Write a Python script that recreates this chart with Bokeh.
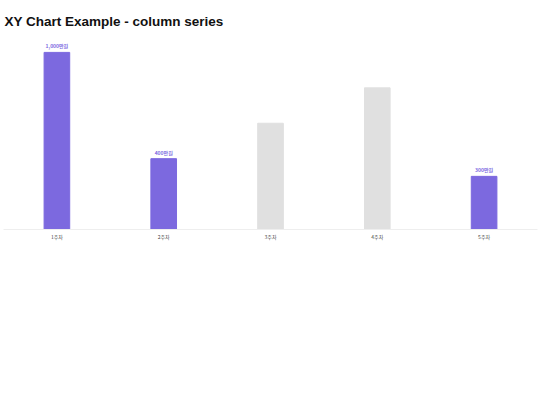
from bokeh.plotting import figure
from bokeh.models import ColumnDataSource, FactorRange, Range1d, Title
from bokeh.core.properties import value
from bokeh.embed import file_html
from bokeh.resources import INLINE

categories = ["1주차", "2주차", "3주차", "4주차", "5주차"]
values = [1000, 400, 600, 800, 300]
highlighted = [True, True, False, False, True]
label_texts = ["1,000만원", "400만원", "", "", "300만원"]

PURPLE = "#7C69DF"
GREY = "#E0E0E0"

colors = [PURPLE if h else GREY for h in highlighted]
src = ColumnDataSource(dict(cat=categories, val=values, color=colors))

lab_cats = [c for c, t in zip(categories, label_texts) if t]
lab_vals = [v for v, t in zip(values, label_texts) if t]
lab_txt = [t for t in label_texts if t]
lsrc = ColumnDataSource(dict(cat=lab_cats, val=lab_vals, txt=lab_txt))

p = figure(width=540, height=405, output_backend="svg", toolbar_location=None,
           x_range=FactorRange(*categories, range_padding=0),
           y_range=Range1d(0, 1118),
           min_border_left=3, min_border_right=3,
           min_border_top=31, min_border_bottom=176)
p.title = Title(text="XY Chart Example - column series", text_font_size="13.5px",
                text_font_style="bold", text_font="Liberation Sans",
                text_color="#111111", offset=1, standoff=3,
                vertical_align="middle")

p.vbar(x="cat", top="val", width=0.24, source=src, fill_color="color",
       line_color="color")
p.text(x="cat", y="val", text="txt", source=lsrc, text_align="center",
       text_baseline="bottom", y_offset=-3, text_font_size="5px",
       text_font_style="bold",
       text_color=PURPLE, text_font=value("Noto Sans CJK KR"))

p.xgrid.visible = False
p.ygrid.visible = False
p.yaxis.visible = False
p.xaxis.axis_line_color = "#EEEEEE"
p.xaxis.major_tick_line_color = None
p.xaxis.minor_tick_line_color = None
p.xaxis.major_label_text_font_size = "5px"
p.xaxis.major_label_text_color = "#444444"
p.xaxis.major_label_text_font = "Noto Sans CJK KR"
p.xaxis.major_label_standoff = -3
p.outline_line_color = None

open("out.html", "w").write(file_html(p, INLINE))
